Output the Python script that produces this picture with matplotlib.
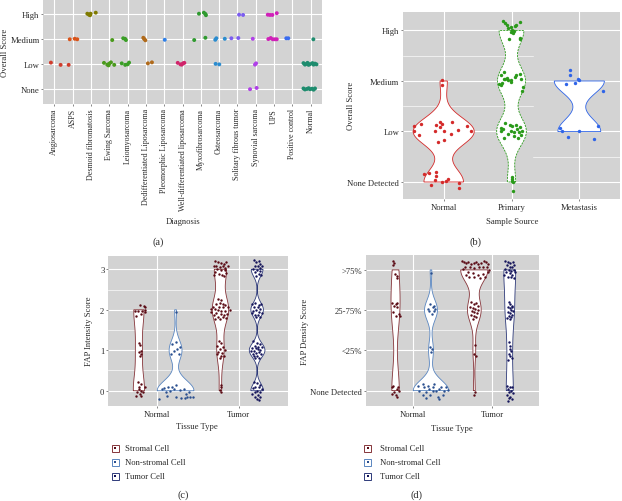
import matplotlib
matplotlib.use('Agg')
import matplotlib.pyplot as plt
import numpy as np
from matplotlib.patches import Rectangle

plt.rcParams['font.family'] = ['Liberation Serif', 'DejaVu Serif']

# ---------------- data: panel (a) ----------------
a_categories = ['Angiosarcoma', 'ASPS', 'Desmoid fibromatosis', 'Ewing Sarcoma', 'Leiomyosarcoma',
                'Dedifferentiated Liposarcoma', 'Pleomorphic Liposarcoma', 'Well-differentiated liposarcoma',
                'Myxofibrosarcoma', 'Osteosarcoma', 'Solitary fibrous tumor', 'Synovial sarcoma', 'UPS',
                'Positive control', 'Normal']
a_colors = ['#D03C2C', '#D95319', '#7F7A00', '#4A9A1C', '#3A9E26', '#B06A1A', '#2F80E8', '#D0246A',
            '#2F9A2F', '#2B8CCF', '#7B5CF0', '#B040E8', '#D020B8', '#3A6CF0', '#1E8C6E']
a_score_labels = ['None', 'Low', 'Medium', 'High']
a_cat = [0, 0, 0,
         1, 1, 1,
         2, 2, 2, 2, 2,
         3, 3, 3, 3, 3, 3, 3,
         4, 4, 4, 4, 4, 4, 4,
         5, 5, 5, 5, 5,
         6,
         7, 7, 7, 7, 7,
         8, 8, 8, 8, 8, 8,
         9, 9, 9, 9, 9,
         10, 10, 10, 10,
         11, 11, 11, 11, 11,
         12, 12, 12, 12, 12, 12, 12, 12, 12,
         13, 13,
         14, 14, 14, 14, 14, 14, 14, 14, 14, 14, 14, 14, 14, 14, 14, 14, 14, 14, 14]
a_dx = [-0.19, 0.34, 0.78,
        -0.16, 0.11, 0.25,
        -0.20, -0.11, -0.05, -0.02, 0.26,
        -0.29, -0.11, 0.00, 0.09, 0.27, -0.04, 0.16,
        -0.32, -0.13, 0.00, 0.08, -0.24, -0.14, -0.09,
        -0.14, -0.09, -0.03, 0.11, 0.33,
        0.03,
        -0.26, -0.11, -0.04, 0.03, 0.10,
        -0.10, 0.17, 0.25, 0.28, -0.36, 0.25,
        -0.21, -0.15, 0.31, -0.19, 0.01,
        0.09, 0.31, -0.33, 0.05,
        -0.16, -0.04, 0.02, -0.31, 0.05,
        -0.34, -0.22, -0.09, 0.15, -0.31, -0.18, -0.07, 0.05, 0.15,
        -0.33, -0.22,
        0.15, -0.39, -0.31, -0.22, -0.17, -0.11, -0.03, 0.10, 0.16, 0.24, 0.32,
        -0.39, -0.31, -0.20, -0.11, -0.03, 0.08, 0.16, 0.24]
a_y = [2.05, 1.96, 1.96,
       2.98, 3.00, 2.98,
       4.00, 3.96, 3.94, 4.00, 4.04,
       2.04, 1.97, 2.01, 2.06, 1.96, 1.94, 2.95,
       2.02, 1.96, 1.98, 2.05, 3.02, 3.00, 2.95,
       3.04, 2.99, 2.94, 2.02, 2.06,
       2.96,
       2.04, 1.98, 1.97, 2.02, 2.04,
       4.00, 4.04, 3.99, 3.94, 2.95, 3.04,
       2.96, 3.02, 3.00, 2.00, 1.98,
       3.96, 3.95, 3.02, 3.03,
       3.00, 1.97, 2.02, 0.99, 1.04,
       3.96, 3.95, 3.95, 4.02, 2.99, 3.03, 2.98, 2.98, 2.98,
       3.02, 3.02,
       2.98, 2.03, 1.97, 2.00, 2.04, 1.96, 1.99, 2.03, 1.97, 2.01, 1.98,
       1.02, 0.98, 1.00, 1.03, 0.99, 1.01, 0.97, 1.02]

# ---------------- data: panel (b) ----------------
b_sources = ['Normal', 'Primary', 'Metastasis']
b_colors = ['#D42A2A', '#2A9A1A', '#2E64E8']
b_score_labels = ['None Detected', 'Low', 'Medium', 'High']
b_normal_dx = [-0.44, -0.33, -0.44, -0.36, -0.12, -0.05, -0.03, 0.00, -0.05, -0.13, 0.12, 0.11, 0.21, 0.35,
               0.40, 0.01, -0.09,
               -0.29, -0.21, -0.12, -0.11, -0.13, -0.19, -0.02, 0.03, 0.23, 0.22, 0.06,
               -0.02, -0.02]
b_normal_y = [2.11, 2.14, 2.00, 1.93, 2.13, 2.18, 2.15, 2.01, 2.08, 2.00, 2.18, 1.96, 2.03, 2.11,
              2.01, 1.83, 1.79,
              1.15, 1.17, 1.19, 1.12, 1.03, 0.95, 0.99, 1.02, 0.97, 0.89, 1.06,
              3.01, 2.92]
b_primary_dx = [-0.12, -0.10, -0.07, -0.01, 0.01, 0.03, 0.05, 0.07, 0.12, 0.02, -0.01, -0.03, 0.12, 0.13, -0.05,
                -0.16, -0.18, -0.15, -0.11, -0.11, -0.09, -0.06, -0.05, -0.005, 0.05, 0.07, 0.12, 0.14, 0.17,
                0.16, -0.14, -0.01,
                -0.09, -0.16, -0.15, -0.12, -0.02, -0.01, 0.01, 0.04, 0.07, 0.08, 0.11, 0.12, 0.16, 0.14,
                0.09, 0.03, -0.05, -0.11,
                0.01, 0.00, 0.02, 0.005, 0.025]
b_primary_y = [4.19, 4.15, 4.11, 4.06, 4.01, 3.99, 4.09, 4.11, 4.17, 3.96, 3.97, 3.83, 3.86, 3.84, 4.04,
               3.11, 2.94, 2.92, 3.18, 3.04, 3.03, 3.05, 3.01, 3.02, 3.07, 3.11, 3.14, 3.04, 2.89,
               2.81, 2.96, 2.97,
               2.17, 2.06, 2.01, 2.05, 2.13, 2.01, 2.10, 1.98, 2.13, 2.05, 1.98, 2.08, 2.01, 1.93,
               1.88, 1.91, 1.95, 1.88,
               1.09, 1.05, 0.99, 1.02, 0.82]
b_meta_dx = [-0.14, -0.13, -0.19, -0.06, 0.00, 0.35, -0.02,
             -0.29, -0.25, -0.16, 0.00, 0.22, 0.27]
b_meta_y = [3.21, 3.12, 2.94, 2.96, 3.01, 2.81, 3.03,
            2.07, 2.00, 1.90, 2.00, 1.86, 2.11]

# ---------------- data: panels (c) and (d) ----------------
tissue_types = ['Normal', 'Tumor']
cell_labels = ['Stromal Cell', 'Non-stromal Cell', 'Tumor Cell']
cell_point_colors = ['#5A0A14', '#2A4F8F', '#14145A']
cell_line_colors = ['#86353A', '#5A86C0', '#2E3A7A']
c_score_labels = ['0', '1', '2', '3']
d_score_labels = ['None Detected', '<25%', '25-75%', '>75%']

c_ns_dx = [0.016, 0.057, 0.069, -0.045, -0.012, 0.037, 0.069, -0.033, 0.028, 0.077,
           -0.004, 0.012, -0.004, 0.020, 0.008, 0.028,
           -0.012, 0.028, 0.000, 0.020, -0.020, 0.049, 0.008, 0.028, -0.033, 0.069, -0.004]
c_ns_y = [2.13, 2.10, 2.06, 1.98, 1.96, 1.96, 1.94, 1.85, 1.89, 1.99,
          1.17, 1.14, 0.95, 0.91, 0.87, 0.99,
          0.21, 0.16, 0.04, 0.00, -0.04, -0.02, -0.08, -0.12, -0.12, 0.08, 0.10]
c_nn_dx = [0.000,
           -0.041, -0.020, 0.020, 0.049, 0.000, -0.053, 0.041,
           -0.203, -0.171, -0.142, -0.110, -0.093, 0.000, -0.069, -0.020, 0.049, 0.102, 0.122, 0.142,
           0.183, 0.215, 0.163, 0.000, 0.061, 0.110, -0.122, -0.041]
c_nn_y = [1.94,
          1.15, 0.97, 1.03, 1.07, 1.20, 0.91, 0.91,
          -0.21, 0.04, 0.07, -0.12, 0.10, 0.15, 0.00, 0.04, 0.02, 0.04, -0.08, -0.16,
          -0.15, -0.16, -0.04, -0.16, -0.18, -0.18, -0.02, 0.08]
c_ts_dx = [-0.061, -0.028, 0.012, 0.045, 0.073, -0.077, -0.049, -0.008, 0.033, 0.061, 0.093, -0.037, 0.004,
           0.053, -0.061, -0.020, 0.020, 0.073, -0.077, 0.045,
           -0.028, 0.012, -0.049, -0.008, 0.053, -0.089, 0.033, 0.093, -0.069, -0.028, 0.012, 0.061, 0.114,
           -0.110, -0.049, 0.004, 0.045, 0.085, -0.077, -0.028, 0.033, 0.073, -0.008, -0.061, 0.033, -0.020,
           -0.118,
           -0.020, 0.012, -0.037, 0.033, -0.008, 0.053, -0.028, 0.020, 0.004, -0.045, 0.045, -0.008,
           0.004, 0.004, -0.008, 0.008]
c_ts_y = [3.20, 3.17, 3.15, 3.13, 3.17, 3.07, 3.09, 3.05, 3.07, 3.03, 3.09, 3.01, 2.98,
          2.98, 2.93, 2.89, 2.87, 2.90, 2.87, 2.84,
          2.27, 2.23, 2.14, 2.16, 2.13, 2.08, 2.06, 2.08, 2.02, 2.00, 1.98, 1.98, 2.00,
          1.94, 1.91, 1.90, 1.88, 1.90, 1.86, 1.83, 1.81, 1.80, 1.77, 1.77, 2.14, 2.06,
          2.02,
          1.22, 1.17, 1.11, 1.07, 1.03, 1.01, 0.95, 0.92, 0.87, 0.91, 0.87, 0.82,
          0.15, 0.08, 0.03, -0.02]
c_tc_dx = [-0.041, -0.008, 0.020, 0.041, -0.020, 0.008, 0.033, 0.061, -0.049, 0.000, 0.041, -0.028, 0.020,
           -0.008, 0.053,
           -0.061, -0.020, 0.020, 0.053, -0.041, 0.008, 0.041, -0.008, -0.049, 0.024, 0.061, -0.028, 0.012,
           0.041, -0.016, -0.061,
           -0.049, 0.000, 0.033, -0.020, 0.061, -0.061, 0.008, 0.041, -0.033, 0.020, -0.008, -0.049, 0.053,
           0.000, -0.028, 0.028, -0.016, -0.073, 0.016, -0.041,
           -0.041, 0.000, 0.041, -0.020, 0.020, -0.049, 0.061, 0.000, -0.028, 0.033, -0.061, 0.008, -0.020,
           0.041, 0.000, 0.024]
c_tc_y = [3.22, 3.17, 3.20, 3.13, 3.09, 3.07, 3.03, 3.09, 3.01, 2.98, 2.95, 2.93, 2.89,
          2.84, 2.87,
          2.14, 2.16, 2.13, 2.14, 2.08, 2.06, 2.02, 2.00, 1.96, 1.94, 1.91, 1.88, 1.86,
          1.83, 1.81, 1.91,
          1.22, 1.17, 1.15, 1.11, 1.09, 1.06, 1.03, 1.01, 0.97, 0.95, 0.92, 0.91, 0.91,
          0.87, 0.82, 0.81, 1.06, 0.99, 1.09, 0.86,
          0.21, 0.18, 0.15, 0.10, 0.08, 0.07, 0.04, 0.00, -0.04, -0.04, -0.08, -0.10, -0.15,
          -0.16, -0.21, -0.23]

d_ns_dx = [-0.034, -0.021, -0.030, -0.008, 0.021, 0.013,
           -0.042, -0.021, 0.000, 0.021, 0.042, -0.030, 0.000, 0.055, 0.013,
           -0.042, -0.021, 0.000, 0.021, 0.042, -0.042, 0.013, -0.030, 0.030]
d_ns_y = [3.21, 3.17, 3.11, 2.90, 2.86, 2.80,
          2.17, 2.11, 2.15, 2.07, 1.91, 1.95, 1.86, 1.86, 2.17,
          0.08, -0.04, -0.12, 0.04, 0.00, -0.08, -0.15, 0.12, 0.10]
d_nn_dx = [0.000,
           -0.034, -0.008, 0.021, 0.042, -0.021, 0.051, 0.008, 0.034,
           -0.008, 0.008, 0.000,
           -0.169, -0.148, -0.106, -0.085, -0.063, -0.042, -0.021, -0.008, 0.021, 0.042, 0.063, 0.085,
           0.106, 0.127, 0.148, 0.169, 0.190, 0.212, -0.106, -0.063, 0.106, 0.021]
d_nn_y = [2.92,
          2.03, 2.15, 2.07, 2.11, 1.97, 2.03, 1.91, 1.97,
          1.09, 1.04, 0.95,
          0.12, 0.00, 0.17, 0.08, -0.04, 0.12, 0.04, -0.12, 0.08, 0.17, 0.00, -0.17,
          0.04, 0.08, -0.12, 0.00, 0.08, 0.02, -0.12, -0.18, -0.21, -0.02]
d_ts_dx = [-0.161, -0.135, -0.106, -0.076, -0.042, -0.008, 0.021, 0.051, 0.085, 0.118, 0.148, 0.178, 0.161,
           0.106, 0.063, 0.000, -0.051, -0.118, -0.148, -0.085, -0.021, 0.042, 0.106, 0.169, -0.063, 0.000,
           0.076, 0.135, -0.106, 0.190,
           -0.042, -0.008, 0.021, 0.051, -0.051, -0.021, 0.008, 0.042, -0.034, 0.000, 0.034, -0.042, -0.008,
           0.021, -0.021,
           0.013, 0.000, 0.021,
           0.008, 0.000]
d_ts_y = [3.21, 3.19, 3.17, 3.19, 3.15, 3.17, 3.19, 3.15, 3.17, 3.21, 3.19, 3.15, 3.08,
          3.07, 3.08, 3.05, 3.07, 3.08, 3.02, 2.94, 2.92, 2.88, 2.90, 2.94, 2.83, 2.82,
          2.80, 2.83, 2.88, 3.00,
          2.20, 2.15, 2.17, 2.11, 2.09, 2.05, 2.03, 2.00, 1.97, 1.95, 1.92, 1.89, 1.86,
          1.82, 1.78,
          1.14, 0.91, 0.87,
          -0.04, -0.10]
d_tc_dx = [-0.055, -0.025, 0.008, 0.042, -0.034, 0.000, 0.030, 0.059, -0.055, -0.013, 0.017, 0.051, -0.042,
           0.000, 0.030, 0.072, -0.025, 0.017, 0.051, -0.068,
           -0.013, 0.008, 0.030, -0.025, 0.000, 0.017, 0.042, -0.017, 0.008, 0.034, -0.008, 0.017, -0.034,
           0.000, 0.025,
           -0.013, 0.008, 0.000, 0.017, -0.008, 0.008, 0.030, -0.017,
           -0.034, 0.000, 0.030, -0.021, 0.017, -0.013, 0.042, -0.034, 0.008, -0.008, 0.025, -0.025]
d_tc_y = [3.21, 3.19, 3.17, 3.19, 3.11, 3.08, 3.07, 3.11, 3.02, 3.00, 2.98, 3.00, 2.94,
          2.92, 2.88, 2.94, 2.83, 2.82, 2.80, 2.88,
          2.20, 2.15, 2.11, 2.07, 2.05, 2.00, 1.99, 1.95, 1.92, 1.89, 1.86, 1.82, 1.81,
          1.78, 2.07,
          1.20, 1.12, 1.04, 0.98, 0.91, 0.87, 0.81, 0.76,
          0.12, 0.10, 0.08, 0.04, 0.00, -0.04, -0.07, -0.10, -0.15, -0.18, -0.21, -0.25]

# ---------------- helpers ----------------
W, H = 622, 502
fig = plt.figure(figsize=(W / 100, H / 100), dpi=100)
PANEL_BG = '#D3D3D3'
TXT = '#2B2B2B'
FS = 6.2


def add_ax(x0, y0, x1, y1):
    return fig.add_axes([x0 / W, 1 - y1 / H, (x1 - x0) / W, (y1 - y0) / H])


def ftext(x, y, s, **kw):
    kw.setdefault('fontsize', FS)
    kw.setdefault('color', TXT)
    kw.setdefault('ha', 'center')
    kw.setdefault('va', 'center')
    fig.text(x / W, 1 - y / H, s, **kw)


def style(ax, xlim, ylim, xt, yt, xtl, ytl, minor_y=None, xrot=0, xfs=FS):
    ax.set_facecolor(PANEL_BG)
    for s in ax.spines.values():
        s.set_visible(False)
    ax.set_xlim(*xlim)
    ax.set_ylim(*ylim)
    ax.set_xticks(xt)
    ax.set_yticks(yt)
    ax.set_xticklabels(xtl, rotation=xrot, va='top', ha='center', fontsize=xfs)
    ax.set_yticklabels(ytl)
    ax.tick_params(length=1.6, width=0.5, color='#555555', labelsize=FS, labelcolor=TXT, pad=1.2)
    ax.tick_params(axis='x', labelsize=xfs)
    for v in yt:
        ax.axhline(v, color='white', lw=0.8, zorder=0.5)
    for v in xt:
        ax.axvline(v, color='white', lw=0.8, zorder=0.5)
    if minor_y is not None:
        for v in minor_y:
            ax.axhline(v, color='white', lw=0.45, zorder=0.5)


def nrd0(v):
    v = np.asarray(v, float)
    hi = v.std(ddof=1)
    q75, q25 = np.percentile(v, [75, 25])
    lo = min(hi, (q75 - q25) / 1.34)
    if lo <= 0:
        lo = hi if hi > 0 else 1.0
    return 0.9 * lo * len(v) ** -0.2


def density(v, adjust=1.0):
    v = np.round(np.asarray(v, float))
    bw = nrd0(v) * adjust
    grid = np.linspace(v.min(), v.max(), 512)
    d = np.exp(-0.5 * ((grid[:, None] - v[None, :]) / bw) ** 2).sum(1) / (len(v) * bw * np.sqrt(2 * np.pi))
    return grid, d


def violins(ax, specs, halfmax):
    dens = [density(s['y'], s.get('adjust', 1.0)) for s in specs]
    gmax = max(d.max() * s.get('scale', 1.0) for s, (_, d) in zip(specs, dens))
    for s, (g, d) in zip(specs, dens):
        w = halfmax * d * s.get('scale', 1.0) / gmax
        xs = np.concatenate([s['x'] - w, (s['x'] + w)[::-1]])
        ys = np.concatenate([g, g[::-1]])
        ax.fill(xs, ys, facecolor='white', edgecolor=s['ec'], lw=0.6, ls=s.get('ls', '-'), zorder=2)
        ax.scatter(s['x'] + np.asarray(s['dx']), s['y'], s=s['s'], color=s['pc'], lw=0, zorder=3)


# ---------------- panel (a) ----------------
axa = add_ax(43.4, 0, 321.6, 105)
style(axa, (-0.6, 14.6), (0.4, 4.586), range(len(a_categories)), [1, 2, 3, 4],
      a_categories, a_score_labels, xrot=90, xfs=5.8)
axa.scatter(np.asarray(a_cat) + np.asarray(a_dx), a_y, s=8, lw=0,
            c=[a_colors[i] for i in a_cat], zorder=3)
ftext(5, 53, 'Overall Score', rotation=90)
ftext(182.7, 222.3, 'Diagnosis')
ftext(158.5, 242, '(a)', fontsize=7.5)

# ---------------- panel (b) ----------------
axb = add_ax(403, 13.3, 620, 200)
style(axb, (0.4, 3.6), (0.663, 4.36), [1, 2, 3], [1, 2, 3, 4], b_sources, b_score_labels)
for yv in (2.5, 3.5):
    axb.plot([0.4, 2.32], [yv, yv], color='white', lw=0.45, zorder=0.5)
axb.plot([2.32, 3.6], [1.5, 1.5], color='white', lw=0.45, zorder=0.5)
violins(axb, [
    dict(x=1, dx=b_normal_dx, y=b_normal_y, ec=b_colors[0], pc=b_colors[0], s=6),
    dict(x=2, dx=b_primary_dx, y=b_primary_y, ec=b_colors[1], pc=b_colors[1], s=6, ls=(0, (2.5, 1.2)),
         adjust=0.75, scale=0.9),
    dict(x=3, dx=b_meta_dx, y=b_meta_y, ec=b_colors[2], pc=b_colors[2], s=6, adjust=0.9, scale=0.8),
], 0.45)
ftext(351, 106, 'Overall Score', rotation=90)
ftext(512.5, 222.3, 'Sample Source')
ftext(476, 242, '(b)', fontsize=7.5)

# ---------------- panel (c) ----------------
off = 0.225
axc = add_ax(108.3, 256.7, 287.7, 406.7)
style(axc, (0.4, 2.6), (-0.37, 3.336), [1, 2], [0, 1, 2, 3], tissue_types, c_score_labels,
      minor_y=[0.5, 1.5, 2.5])
violins(axc, [
    dict(x=1 - off, dx=c_ns_dx, y=c_ns_y, ec=cell_line_colors[0], pc=cell_point_colors[0], s=3, scale=0.85),
    dict(x=1 + off, dx=c_nn_dx, y=c_nn_y, ec=cell_line_colors[1], pc=cell_point_colors[1], s=3),
    dict(x=2 - off, dx=c_ts_dx, y=c_ts_y, ec=cell_line_colors[0], pc=cell_point_colors[0], s=3),
    dict(x=2 + off, dx=c_tc_dx, y=c_tc_y, ec=cell_line_colors[2], pc=cell_point_colors[2], s=3,
         adjust=0.6, scale=0.7),
], 0.225)
ftext(89.3, 331.5, 'FAP Intensity Score', rotation=90)
ftext(197, 427.3, 'Tissue Type')
ftext(183.3, 495.5, '(c)', fontsize=7.5)

# ---------------- panel (d) ----------------
axd = add_ax(366, 256, 539.3, 406.7)
style(axd, (0.4, 2.6), (-0.375, 3.37), [1, 2], [0, 1, 2, 3], tissue_types, d_score_labels,
      minor_y=[0.5, 1.5, 2.5])
violins(axd, [
    dict(x=1 - off, dx=d_ns_dx, y=d_ns_y, ec=cell_line_colors[0], pc=cell_point_colors[0], s=3, scale=0.85),
    dict(x=1 + off, dx=d_nn_dx, y=d_nn_y, ec=cell_line_colors[1], pc=cell_point_colors[1], s=3, adjust=0.6),
    dict(x=2 - off, dx=d_ts_dx, y=d_ts_y, ec=cell_line_colors[0], pc=cell_point_colors[0], s=3),
    dict(x=2 + off, dx=d_tc_dx, y=d_tc_y, ec=cell_line_colors[2], pc=cell_point_colors[2], s=3),
], 0.225)
ftext(305, 331.5, 'FAP Density Score', rotation=90)
ftext(452, 429, 'Tissue Type')
ftext(416.7, 495.5, '(d)', fontsize=7.5)

# ---------------- legends ----------------
for lx, tx in ((115, 125), (367.7, 380)):
    for i, lab in enumerate(cell_labels):
        cy = 449.3 + 14 * i
        fig.patches.append(Rectangle(((lx - 3.5) / W, 1 - (cy + 3.5) / H), 7 / W, 7 / H,
                                     transform=fig.transFigure, facecolor='white',
                                     edgecolor=cell_line_colors[i], lw=0.7))
        fig.patches.append(Rectangle(((lx - 0.9) / W, 1 - (cy + 0.9) / H), 1.8 / W, 1.8 / H,
                                     transform=fig.transFigure, facecolor=cell_point_colors[i], lw=0))
        ftext(tx, cy, lab, ha='left')

fig.savefig('out.png', dpi=100)
